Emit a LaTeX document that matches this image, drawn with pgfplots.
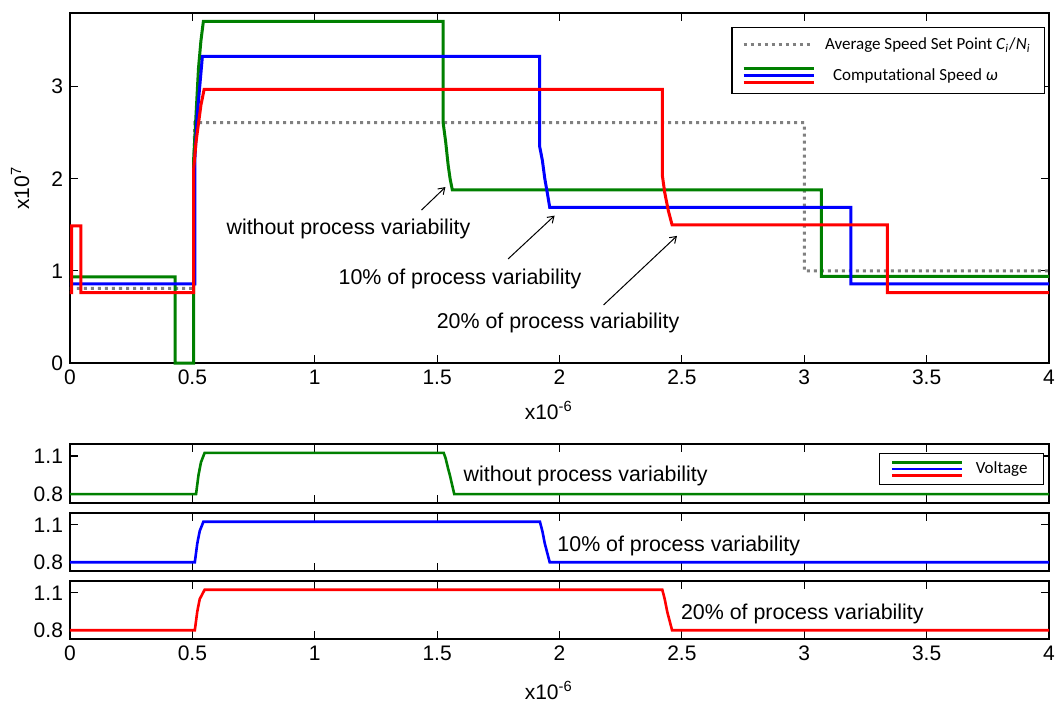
\documentclass[border=0pt]{standalone}
\usepackage{pgfplots}
\pgfplotsset{compat=1.18}
\usepackage{fontspec}
\setmainfont{Liberation Sans}
\newfontfamily\legfont[Ligatures=NoCommon]{Carlito}
\usetikzlibrary{arrows.meta}
\definecolor{mgreen}{rgb}{0,0.5,0}
\definecolor{mblue}{rgb}{0,0,1}
\definecolor{mred}{rgb}{1,0,0}
\definecolor{mgray}{RGB}{128,128,128}
\pgfplotsset{
  common/.style={
    scale only axis, width=489.5pt, xmin=0, xmax=4,
    axis line style={line width=0.6pt}, tick style={black, line width=0.6pt},
    tick align=inside, major tick length=4pt,
    xtick pos=both, ytick pos=both,
    tick label style={font=\fontsize{10.5}{12}\selectfont},
    /pgf/number format/assume math mode=true,
    xtick={0,0.5,1,1.5,2,2.5,3,3.5,4},
    clip=false,
    legend cell align=left,
  },
  panel/.style={common, ymin=0.73, ymax=1.195, ytick={0.8,1.1},
    yticklabel style={/pgf/number format/.cd, fixed, fixed zerofill, precision=1},
  },
}
\tikzset{
  ann/.style={font=\fontsize{10.7}{13}\selectfont, anchor=west, inner sep=0pt},
  arr/.style={-{Straight Barb[length=3pt,width=4pt]}, line width=0.5pt, black},
}
\begin{document}
\begin{tikzpicture}
\useasboundingbox (0,0) rectangle (527.5pt,351.5pt);
% ---------------- top axis
\begin{axis}[common, at={(35pt,170pt)}, anchor=south west, height=175pt,
  ymin=0, ymax=3.8, ytick={0,1,2,3},
  xlabel={x10\textsuperscript{-6}},
  xlabel style={at={(axis description cs:0.489,0)}, anchor=center, yshift=-23.5pt, font=\fontsize{10.5}{12}\selectfont},
  ylabel={x10\textsuperscript{7}},
  ylabel style={at={(axis description cs:-0.051,0.5)}, anchor=center, font=\fontsize{10.5}{12}\selectfont},
  legend style={at={(rel axis cs:0.996,0.96)}, anchor=north east, draw=black, line width=0.6pt,
    font=\legfont\fontsize{8.5}{10}\selectfont, inner xsep=5pt, inner ysep=3pt,
    row sep=4pt, /tikz/every odd column/.append style={column sep=3pt}},
]
\addlegendimage{legend image code/.code={\draw[mgray, line width=1.5pt, dash pattern=on 1.5pt off 2pt] (0pt,0pt)--(34pt,0pt);}}
\addlegendentry{Average Speed Set Point \textit{C}\textsubscript{\textit{i}}/\textit{N}\textsubscript{\textit{i}}}
\addlegendimage{legend image code/.code={
  \draw[mgreen, line width=1.5pt] (0pt,3.5pt)--(35pt,3.5pt);
  \draw[mblue, line width=1.5pt] (0pt,0pt)--(35pt,0pt);
  \draw[mred, line width=1.5pt] (0pt,-3.5pt)--(35pt,-3.5pt);}}
\addlegendentry{\hspace{4pt}Computational Speed \textit{ω}}
\addplot[forget plot, mgray, line width=1.5pt, dash pattern=on 1.5pt off 2pt] coordinates {
(0,0.81)(0.506,0.81)(0.506,2.17)(0.51,2.61)(3.0,2.61)(3.0,1.0)(4,1.0)};
\addplot[forget plot, mgreen, line width=1.5pt] coordinates {
(0,0.935)(0.43,0.935)(0.43,0)(0.505,0)(0.505,2.2)(0.515,2.7)(0.525,3.2)(0.535,3.5)(0.545,3.71)(1.525,3.71)(1.525,2.6)(1.535,2.4)(1.545,2.15)(1.553,2.0)(1.562,1.88)(3.07,1.88)(3.07,0.94)(4,0.94)};
\addplot[forget plot, mblue, line width=1.5pt] coordinates {
(0,0.86)(0.51,0.86)(0.51,2.2)(0.52,2.7)(0.53,3.0)(0.541,3.33)(1.919,3.33)(1.919,2.35)(1.93,2.2)(1.94,2.0)(1.95,1.85)(1.96,1.69)(3.19,1.69)(3.19,0.86)(4,0.86)};
\addplot[forget plot, mred, line width=1.5pt] coordinates {
(0,0.765)(0.007,0.765)(0.007,1.49)(0.044,1.49)(0.044,0.765)(0.505,0.765)(0.505,2.1)(0.515,2.4)(0.525,2.6)(0.535,2.8)(0.548,2.97)(2.42,2.97)(2.42,2.04)(2.43,1.85)(2.445,1.65)(2.46,1.50)(3.34,1.50)(3.34,0.765)(4,0.765)};
\node[ann] at (axis cs:0.638,1.456) {without process variability};
\node[ann] at (axis cs:1.096,0.912) {10\% of process variability};
\node[ann] at (axis cs:1.497,0.432) {20\% of process variability};
\draw[arr] (axis cs:1.436,1.66) -- (axis cs:1.534,1.91);
\draw[arr] (axis cs:1.79,1.13) -- (axis cs:1.98,1.60);
\draw[arr] (axis cs:2.18,0.63) -- (axis cs:2.48,1.38);
\end{axis}
% ---------------- panel 1
\begin{axis}[panel, at={(35pt,100pt)}, anchor=south west, height=29.5pt, xticklabels={},
  legend style={at={(rel axis cs:0.995,0.847)}, anchor=north east, draw=black, line width=0.6pt,
    font=\legfont\fontsize{8.5}{10}\selectfont, inner xsep=6pt, inner ysep=2pt,
    /tikz/every odd column/.append style={column sep=4pt}},
]
\addlegendimage{legend image code/.code={
  \draw[mgreen, line width=1.3pt] (0pt,3.3pt)--(35pt,3.3pt);
  \draw[mblue, line width=1.3pt] (0pt,0pt)--(35pt,0pt);
  \draw[mred, line width=1.3pt] (0pt,-3.3pt)--(35pt,-3.3pt);}}
\addlegendentry{Voltage\hspace{6pt}}
\addplot[forget plot, mgreen, line width=1.3pt] coordinates {
(0,0.8)(0.515,0.8)(0.525,0.95)(0.535,1.05)(0.55,1.125)(1.527,1.125)(1.535,1.08)(1.545,1.0)(1.552,0.95)(1.57,0.8)(4,0.8)};
\node[ann] at (axis cs:1.607,0.942) {without process variability};
\end{axis}
% ---------------- panel 2
\begin{axis}[panel, at={(35pt,66pt)}, anchor=south west, height=29pt, xticklabels={}]
\addplot[forget plot, mblue, line width=1.3pt] coordinates {
(0,0.8)(0.51,0.8)(0.52,0.95)(0.53,1.05)(0.545,1.125)(1.92,1.125)(1.93,1.05)(1.94,0.95)(1.96,0.8)(4,0.8)};
\node[ann] at (axis cs:1.99,0.934) {10\% of process variability};
\end{axis}
% ---------------- panel 3
\begin{axis}[panel, at={(35pt,32pt)}, anchor=south west, height=29pt,
  xlabel={x10\textsuperscript{-6}},
  xlabel style={at={(axis description cs:0.489,0)}, anchor=center, yshift=-25.5pt, font=\fontsize{10.5}{12}\selectfont},
]
\addplot[forget plot, mred, line width=1.3pt] coordinates {
(0,0.8)(0.51,0.8)(0.52,0.95)(0.53,1.05)(0.55,1.125)(2.42,1.125)(2.43,1.05)(2.44,0.95)(2.46,0.8)(4,0.8)};
\node[ann] at (axis cs:2.495,0.934) {20\% of process variability};
\end{axis}
\end{tikzpicture}
\end{document}
